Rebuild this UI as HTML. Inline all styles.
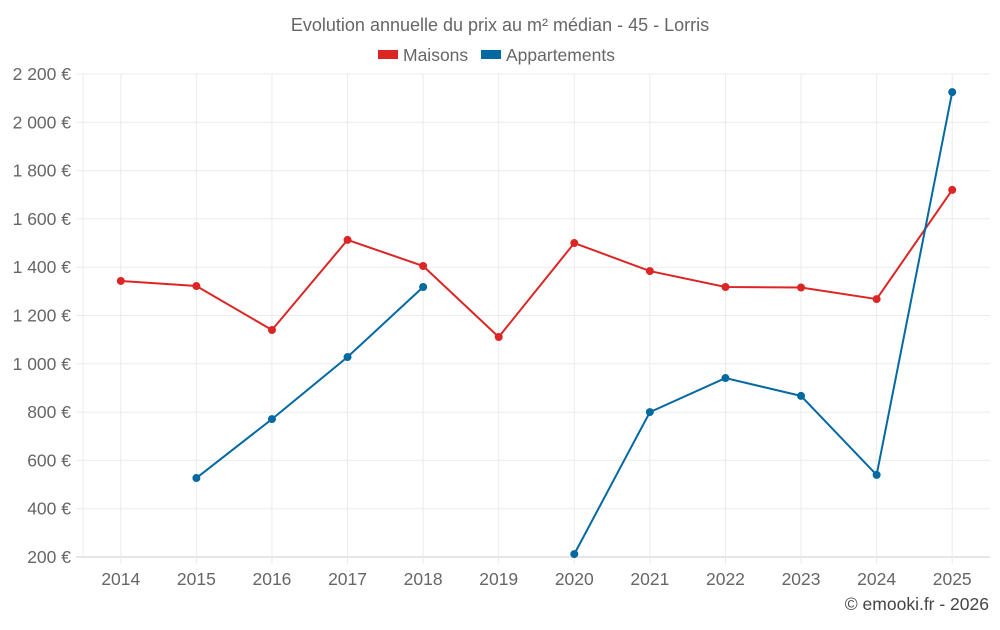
<!DOCTYPE html>
<html><head><meta charset="utf-8"><style>
body{margin:0;background:#fff;font-family:"Liberation Sans",sans-serif;}
svg text{font-family:"Liberation Sans",sans-serif;fill:#666;}
</style></head><body>
<svg id="chart" width="1000" height="625" xmlns="http://www.w3.org/2000/svg">
<text x="500" y="31" text-anchor="middle" font-size="18">Evolution annuelle du prix au m² médian - 45 - Lorris</text>
<g>
<g><rect x="378" y="50" width="20" height="9" fill="#dc2626"/><text x="403" y="61" font-size="17.5">Maisons</text></g>
<g><rect x="481" y="50" width="20" height="9" fill="#0369a1"/><text x="506" y="61" font-size="17.5">Appartements</text></g>
</g>
<g id="grid"></g><g id="axes"></g><g id="series"></g>
<text x="989" y="610" text-anchor="end" font-size="17.5" style="fill:#444">© emooki.fr - 2026</text>
</svg>
<script>
const years=[2014,2015,2016,2017,2018,2019,2020,2021,2022,2023,2024,2025];
const maisons=[1343,1322,1140,1513,1405,1111,1500,1384,1318,1316,1268,1720];
const appartements=[null,527,771,1028,1318,null,212,800,941,867,540,2125];
const yTicks=[200,400,600,800,1000,1200,1400,1600,1800,2000,2200];
const NS="http://www.w3.org/2000/svg";
const L=83,R=990,T=74,B=557,ymin=200,ymax=2200;
const step=(R-L)/years.length;
const x=i=>L+step*(i+0.5);
const y=v=>B-(v-ymin)/(ymax-ymin)*(B-T);
function mk(tag,attrs,parent){const e=document.createElementNS(NS,tag);for(const k in attrs)e.setAttribute(k,attrs[k]);parent.appendChild(e);return e;}
const grid=document.getElementById('grid'),axes=document.getElementById('axes'),ser=document.getElementById('series');
const fmt=v=>v.toString().replace(/\B(?=(\d{3})+(?!\d))/g,' ')+' €';
yTicks.forEach(v=>{
 const l=mk('line',{x1:76,x2:R,y1:y(v),y2:y(v),stroke:v===ymin?'#ccc':'#ebebeb'},grid);
 
 
 const t=mk('text',{x:71,y:y(v)+6,'text-anchor':'end','font-size':17.5},axes);
 t.textContent=fmt(v);
 
 
});
mk('line',{x1:L,x2:L,y1:T,y2:B,stroke:'#ebebeb'},grid);
years.forEach((yr,i)=>{
 const l=mk('line',{x1:x(i),x2:x(i),y1:T,y2:B+7,stroke:'#ebebeb'},grid);
 
 
 const t=mk('text',{x:x(i),y:585,'text-anchor':'middle','font-size':17.5},axes);
 t.textContent=yr;
 
 
});
function draw(data,color,name){
 let segs=[],cur=[];
 data.forEach((v,i)=>{if(v==null){if(cur.length)segs.push(cur);cur=[];}else cur.push([x(i),y(v)]);});
 if(cur.length)segs.push(cur);
 segs.forEach(s=>{if(s.length>1){const p=mk('polyline',{points:s.map(q=>q.join(',')).join(' '),fill:'none',stroke:color,'stroke-width':2},ser);
  
  }});
 data.forEach((v,i)=>{if(v==null)return;const c=mk('circle',{cx:x(i),cy:y(v),r:4,fill:color},ser);
  
  });
}
draw(maisons,'#dc2626','maisons');
draw(appartements,'#0369a1','appartements');
</script>
</body></html>
